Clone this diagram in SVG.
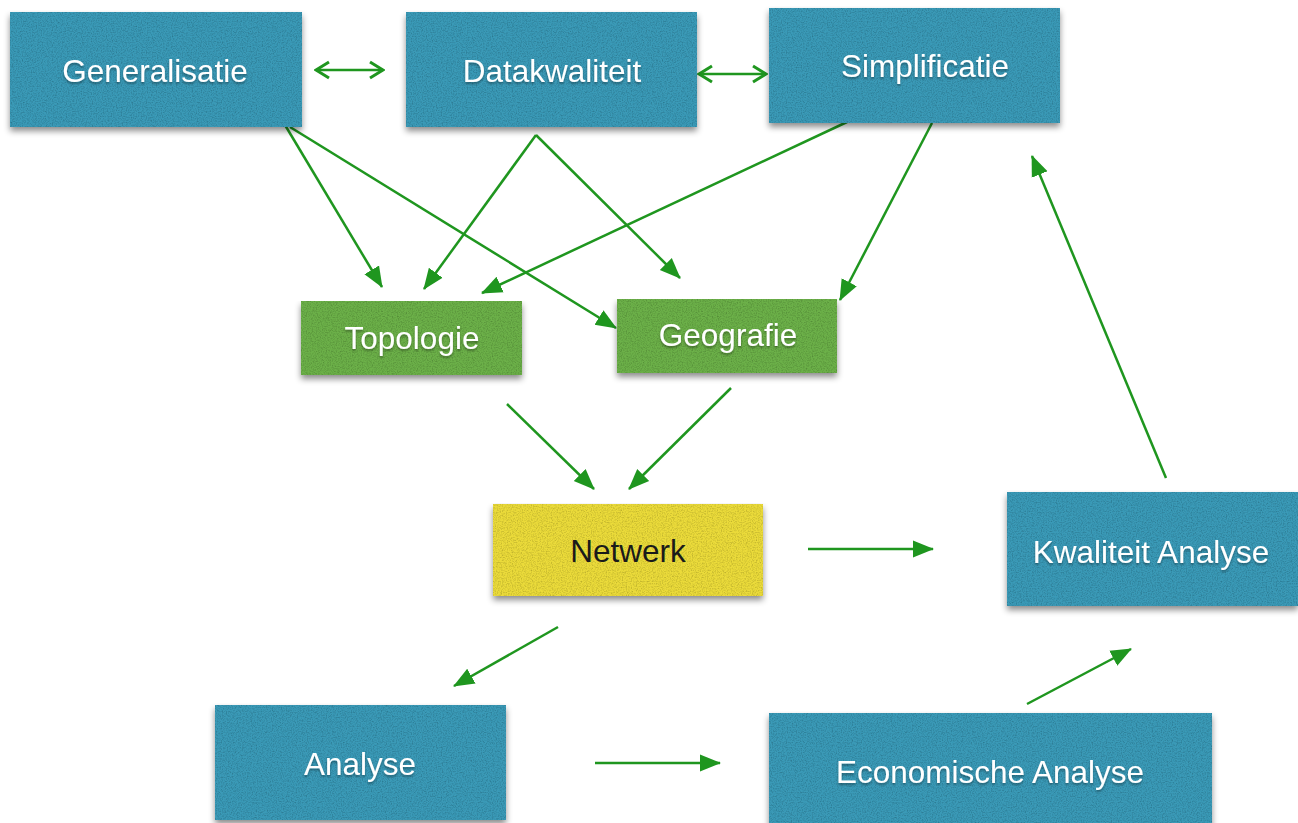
<svg xmlns="http://www.w3.org/2000/svg" width="1298" height="823" viewBox="0 0 1298 823">
  <defs>
    <style>
      .blue { fill: #3b9ab7; }
      .green { fill: #6cb049; }
      .yellow { fill: #ebdb3b; }
      .box { filter: url(#felt); }
      .lbl { font-family: "Liberation Sans", Arial, sans-serif; font-size: 31.5px; text-anchor: middle; dominant-baseline: central; }
      .light { fill: #ffffff; filter: url(#txtshadow); }
      .darktxt { fill: #1a1a1a; }
      .con { stroke: #1f961f; stroke-width: 2.5; fill: none; }
      .one { marker-end: url(#head); }
      .two { marker-start: url(#chevS); marker-end: url(#chevE); }
    </style>
    <!-- felt-like grain plus a soft drop shadow under each box -->
    <filter id="felt" x="-5%" y="-5%" width="112%" height="125%">
      <feTurbulence type="fractalNoise" baseFrequency="0.8" numOctaves="2" seed="7" result="noise"/>
      <feColorMatrix in="noise" type="matrix" values="0 0 0 0 0  0 0 0 0 0  0 0 0 0 0  0 0 0 -0.8 0.48" result="grain"/>
      <feComposite in="grain" in2="SourceGraphic" operator="in" result="grainIn"/>
      <feGaussianBlur in="SourceAlpha" stdDeviation="3" result="blur"/>
      <feOffset in="blur" dx="0" dy="4" result="off"/>
      <feFlood flood-color="#000" flood-opacity="0.45"/>
      <feComposite in2="off" operator="in" result="shadow"/>
      <feMerge>
        <feMergeNode in="shadow"/>
        <feMergeNode in="SourceGraphic"/>
        <feMergeNode in="grainIn"/>
      </feMerge>
    </filter>
    <filter id="txtshadow" x="-10%" y="-30%" width="120%" height="160%">
      <feGaussianBlur in="SourceAlpha" stdDeviation="1.2" result="b"/>
      <feOffset in="b" dx="0" dy="2" result="o"/>
      <feFlood flood-color="#000" flood-opacity="0.35"/>
      <feComposite in2="o" operator="in" result="s"/>
      <feMerge><feMergeNode in="s"/><feMergeNode in="SourceGraphic"/></feMerge>
    </filter>
    <marker id="head" markerUnits="userSpaceOnUse" markerWidth="22" markerHeight="20" viewBox="0 0 22 20" refX="20" refY="10" orient="auto">
      <path d="M0,1.5 L21,10 L0,18.5 Z" fill="#1f961f"/>
    </marker>
    <marker id="chevE" markerUnits="userSpaceOnUse" markerWidth="18" markerHeight="20" viewBox="0 0 18 20" refX="16" refY="10" orient="auto">
      <path d="M3,2 L16,10 L3,18" fill="none" stroke="#1f961f" stroke-width="3"/>
    </marker>
    <marker id="chevS" markerUnits="userSpaceOnUse" markerWidth="18" markerHeight="20" viewBox="0 0 18 20" refX="2" refY="10" orient="auto">
      <path d="M15,2 L2,10 L15,18" fill="none" stroke="#1f961f" stroke-width="3"/>
    </marker>
  </defs>

  <rect width="1298" height="823" fill="#ffffff"/>

  <g id="connectors">
    <line class="con two" x1="316" y1="70" x2="383" y2="70"/>
    <line class="con two" x1="699" y1="74" x2="766" y2="74"/>
    <line class="con one" x1="285" y1="125" x2="382" y2="287"/>
    <line class="con one" x1="290" y1="127" x2="616" y2="328"/>
    <line class="con one" x1="536" y1="135" x2="424" y2="289"/>
    <line class="con one" x1="536" y1="135" x2="680" y2="278"/>
    <line class="con one" x1="847" y1="122" x2="482" y2="293"/>
    <line class="con one" x1="932" y1="123" x2="840" y2="300"/>
    <line class="con one" x1="507" y1="404" x2="594" y2="489"/>
    <line class="con one" x1="731" y1="388" x2="629" y2="489"/>
    <line class="con one" x1="808" y1="549" x2="933" y2="549"/>
    <line class="con one" x1="558" y1="627" x2="454" y2="686"/>
    <line class="con one" x1="595" y1="763" x2="720" y2="763"/>
    <line class="con one" x1="1027" y1="704" x2="1131" y2="649"/>
    <line class="con one" x1="1166" y1="478" x2="1032" y2="156"/>
  </g>

  <g id="generalisatie">
    <rect class="box blue" x="10" y="12" width="292" height="115"/>
    <text class="lbl light" x="155" y="71">Generalisatie</text>
  </g>
  <g id="datakwaliteit">
    <rect class="box blue" x="406" y="12" width="291" height="115"/>
    <text class="lbl light" x="552" y="71">Datakwaliteit</text>
  </g>
  <g id="simplificatie">
    <rect class="box blue" x="769" y="8" width="291" height="115"/>
    <text class="lbl light" x="925" y="66">Simplificatie</text>
  </g>
  <g id="topologie">
    <rect class="box green" x="301" y="301" width="221" height="74"/>
    <text class="lbl light" x="412" y="338">Topologie</text>
  </g>
  <g id="geografie">
    <rect class="box green" x="617" y="299" width="220" height="74"/>
    <text class="lbl light" x="728" y="335">Geografie</text>
  </g>
  <g id="netwerk">
    <rect class="box yellow" x="493" y="504" width="270" height="92"/>
    <text class="lbl darktxt" x="628" y="551">Netwerk</text>
  </g>
  <g id="kwaliteit-analyse">
    <rect class="box blue" x="1007" y="492" width="291" height="114"/>
    <text class="lbl light" x="1151" y="552">Kwaliteit Analyse</text>
  </g>
  <g id="analyse">
    <rect class="box blue" x="215" y="705" width="291" height="115"/>
    <text class="lbl light" x="360" y="764">Analyse</text>
  </g>
  <g id="economische-analyse">
    <rect class="box blue" x="769" y="713" width="443" height="115"/>
    <text class="lbl light" x="990" y="772">Economische Analyse</text>
  </g>
</svg>
